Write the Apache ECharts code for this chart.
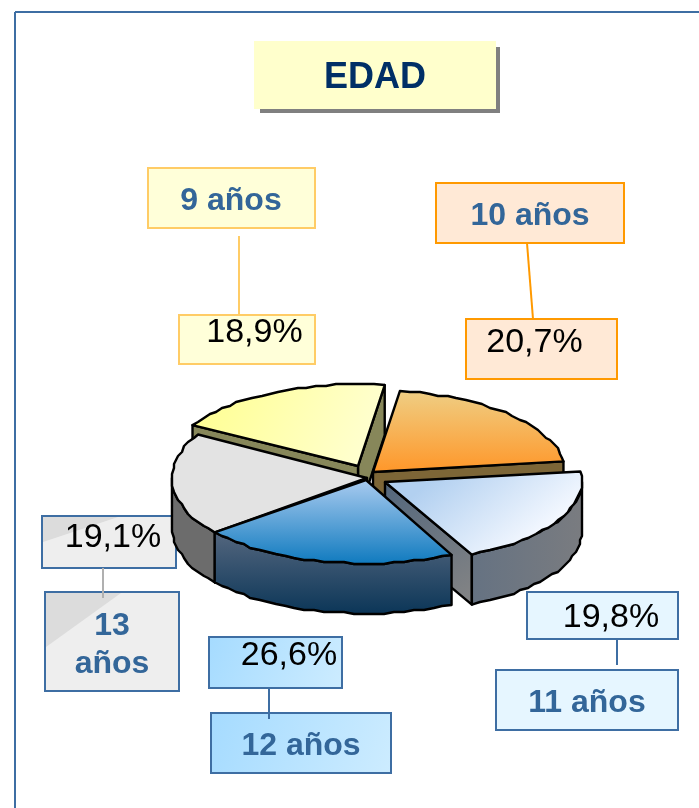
<!DOCTYPE html>
<html><head><meta charset="utf-8">
<style>html,body{margin:0;padding:0;background:#fff}#c{width:699px;height:808px}</style>
<script src="https://cdn.jsdelivr.net/npm/echarts@6/dist/echarts.min.js"></script>
</head><body><div id="c"></div>
<script>
// Data
var chartTitle = 'EDAD';
var categories = ['9 años', '10 años', '11 años', '12 años', '13 años'];
var printedLabels = ['18,9%', '20,7%', '19,8%', '26,6%', '19,1%'];
// Share of the circle each slice actually occupies in the drawing
var sliceShares = [18.9, 20.7, 19.8, 21.5, 19.1];

var F = '"Liberation Sans", Arial, sans-serif';
var startDeg = -60;            // clockwise from 12 o'clock, first slice start
var C = {x: 368, y: 478, a: 197, b: 87, d: 50};
var explode = [[-10, -12], [5, -6], [17, 4], [-2, 2], [-1, 0]];
var radiusScale = [[0.97, 0.94], [0.975, 0.94], [1, 0.93], [0.985, 0.96], [0.99, 1]];
var drawOrder = [0, 1, 4, 2, 3];
function lg(x0, y0, x1, y1, c0, c1) {
  return {type: 'linear', x: x0, y: y0, x2: x1, y2: y1,
    colorStops: [{offset: 0, color: c0}, {offset: 1, color: c1}]};
}
var looks = [
  {top: lg(0, 0, 1, 1, '#FFFF8E', '#FFFFD8'), wall: '#87875A', cutA: '#87875A', cutB: '#87875A'},
  {top: lg(0, 0, 0, 1, '#EFCF85', '#FF9628'), wall: '#7D6637', cutA: '#7D6637', cutB: '#7D6637'},
  {top: lg(0.3, 0, 0.65, 1, '#B2D0F0', '#F4F8FF'), wall: lg(0, 0, 1, 0, '#657282', '#7A7C80'), cutA: '#55697F', cutB: lg(0, 0, 1, 1, '#52667C', '#858585')},
  {top: lg(0, 0, 0, 1, '#ABCCF0', '#0D79BE'), wall: lg(0, 0, 0, 1, '#55677F', '#0A3557'), cutA: '#55677F', cutB: '#55677F'},
  {top: '#E3E3E3', wall: '#6C6C6C', cutA: '#6C6C6C', cutB: '#6C6C6C'}
];
var total = sliceShares.reduce(function (s, v) { return s + v; }, 0);
var spans = [], acc = startDeg;
sliceShares.forEach(function (v, i) {
  var w = v / total * 360; spans[i] = [acc + 360, acc + w + 360]; acc += w;
});
// spans run from 300 upward; normalise slices that lie past a full turn
spans = spans.map(function (sp) { return sp[0] >= 360 ? [sp[0] - 360, sp[1] - 360] : sp; });
function pt(cx, cy, deg, rs) {
  var t = deg * Math.PI / 180;
  return [cx + C.a * rs[0] * Math.sin(t), cy - C.b * rs[1] * Math.cos(t)];
}
function arcPts(cx, cy, s, e, rs) {
  var pts = [], n = Math.max(3, Math.ceil((e - s) / 3));
  for (var i = 0; i <= n; i++) {
    var p = pt(cx, cy, s + (e - s) * i / n, rs);
    // the reference outline is slightly coarse: keep interior vertices on a 2px grid
    if (i > 0 && i < n) p = [Math.round(p[0] / 2) * 2, Math.round(p[1] / 2) * 2];
    pts.push(p);
  }
  return pts;
}
var line = {stroke: '#000', lineWidth: 2.4, lineJoin: 'round'};
function poly(points, fill) {
  return {type: 'polygon', shape: {points: points},
    style: Object.assign({fill: fill}, line)};
}
function renderSlice(params, api) {
  var i = api.value(0), sp = spans[i], lk = looks[i], rs = radiusScale[i];
  var cx = C.x + explode[i][0], cy = C.y + explode[i][1], d = C.d;
  var s = sp[0], e = sp[1], kids = [];
  var A = pt(cx, cy, s, rs), B = pt(cx, cy, e, rs);
  // cut faces, only where the extrusion falls outside the slice's own top
  if (Math.sin(e * Math.PI / 180) > 0) kids.push(poly([[cx, cy], B, [B[0], B[1] + d], [cx, cy + d]], lk.cutB));
  if (Math.sin(s * Math.PI / 180) < 0) kids.push(poly([[cx, cy], A, [A[0], A[1] + d], [cx, cy + d]], lk.cutA));
  // outer wall: only the part facing the viewer (90..270 deg)
  var ws = Math.max(s, 90), we = Math.min(e, 270);
  if (we > ws) {
    var top = arcPts(cx, cy, ws, we, rs);
    var bot = top.map(function (p) { return [p[0], p[1] + d]; }).reverse();
    kids.push(poly(top.concat(bot), lk.wall));
  }
  kids.push(poly([[cx, cy]].concat(arcPts(cx, cy, s, e, rs)), lk.top));
  return {type: 'group', children: kids};
}
// order in which slices are painted, back to front
var seriesData = drawOrder.map(function (i) { return [i, sliceShares[i]]; });
function rect(x, y, w, h, fill, stroke, lw) {
  return {type: 'rect', shape: {x: x, y: y, width: w, height: h},
    style: {fill: fill, stroke: stroke || null, lineWidth: lw === undefined ? 2 : lw}};
}
function seg(x1, y1, x2, y2, c) {
  return {type: 'line', shape: {x1: x1, y1: y1, x2: x2, y2: y2}, style: {stroke: c, lineWidth: 2}};
}
function txt(x, y, s, size, fill, bold) {
  return {type: 'text', x: x, y: y,
    style: {text: s, fill: fill, fontFamily: F, fontSize: size, fontWeight: bold ? 'bold' : 'normal',
      align: 'center', verticalAlign: 'middle'}};
}
var BLUE = '#3E6EA3', INK = '#336699';
var sky = lg(0, 0, 1, 1, '#A5DBFF', '#CDECFF');
var gfx = [
  seg(15, 12, 699, 12, BLUE), seg(15, 12, 15, 808, BLUE),
  rect(260, 47, 240, 66, '#808080', null, 0),
  rect(254, 41, 242, 68, '#FFFFCC', null, 0),
  txt(375, 78, chartTitle, 36, '#002F66', true),
  // 9 años
  rect(148, 168, 167, 60, '#FFFFD9', '#FFCC66'), txt(231, 201, categories[0], 32, INK, true),
  seg(239, 236, 239, 315, '#FFCC66'),
  rect(179, 315, 136, 49, '#FFFFD9', '#FFCC66'), txt(254.5, 333, printedLabels[0], 34, '#000'),
  // 10 años
  rect(436, 183, 188, 60, '#FFE9D6', '#FF9900'), txt(530, 216, categories[1], 32, INK, true),
  seg(527, 243, 533, 319, '#FF9900'),
  rect(466, 319, 151, 60, '#FFE9D6', '#FF9900'), txt(534.5, 343, printedLabels[1], 34, '#000'),
  // 11 años
  rect(527, 592, 151, 47, '#E6F6FF', BLUE), txt(611, 618, printedLabels[2], 34, '#000'),
  seg(617, 639, 617, 665, BLUE),
  rect(496, 670, 182, 60, '#E6F6FF', BLUE), txt(587, 703, categories[2], 32, INK, true),
  // 12 años
  rect(209, 637, 133, 51, sky, BLUE), txt(289, 656, printedLabels[3], 34, '#000'),
  rect(211, 713, 180, 60, sky, BLUE), txt(301, 746, categories[3], 32, INK, true),
  seg(269, 688, 269, 719, BLUE),
  // 13 años
  rect(42, 516, 134, 52, '#EEEEEE', BLUE),
  {type: 'polygon', shape: {points: [[43, 517], [118, 517], [43, 542]]}, style: {fill: '#DCDCDC'}},
  txt(113, 538, printedLabels[4], 34, '#000'),
  rect(45, 592, 134, 99, '#EEEEEE', BLUE),
  {type: 'polygon', shape: {points: [[46, 593], [121, 593], [46, 647]]}, style: {fill: '#DCDCDC'}},
  seg(103, 568, 103, 598, '#B0B0B0'),
  txt(112, 626, categories[4].split(' ')[0], 32, INK, true),
  txt(112, 664, categories[4].split(' ')[1], 32, INK, true)
];
var chart = echarts.init(document.getElementById('c'), null, {renderer: 'canvas'});
chart.setOption({
  animation: false,
  backgroundColor: '#fff',
  graphic: {elements: gfx},
  series: [{
    type: 'custom', coordinateSystem: 'none', silent: true, z: 5,
    renderItem: renderSlice, data: seriesData
  }]
});
</script></body></html>
